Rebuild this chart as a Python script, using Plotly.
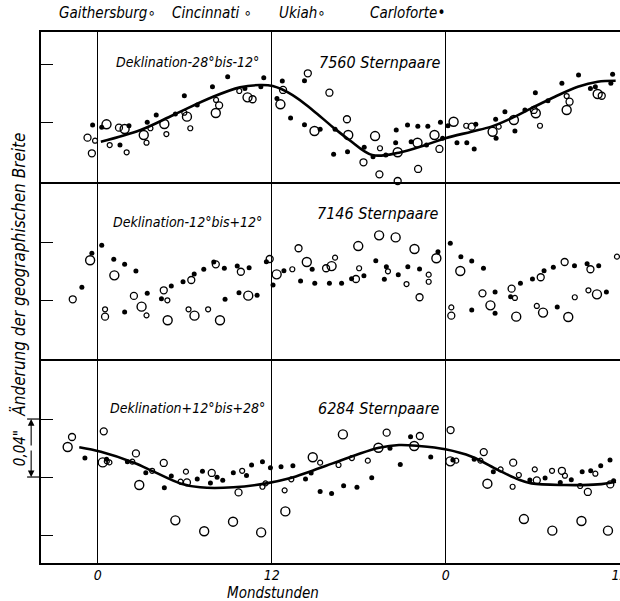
import plotly.graph_objects as go
from plotly.subplots import make_subplots

# ---------------- data (hours of lunar day, change of latitude in 0.01") -------------
HOURS_TICKS = [0, 12, 24, 36]
HOURS_LABELS = ["0", "12", "0", "12"]
STATIONS = ["Gaithersburg", "Cincinnati", "Ukiah", "Carloforte"]

# Panel 1: Deklination -28° bis -12°
P1_CARLOFORTE = [(-0.36,-0.21),(0.27,-0.37),(1.53,-1.59),(2.15,-0.26),(3.41,-0.02),(4.03,0.48),
    (5.35,0.55),(5.97,1.81),(6.86,1.17),(7.91,2.43),(8.96,3.12),(10.15,2.32),(11.45,3.06),
    (11.25,2.43),(12.73,2.83),(12.36,1.63),(13.30,0.28),(14.26,2.85),(14.26,-0.19),(15.34,-0.50),
    (16.37,-0.50),(16.27,-2.23),(17.23,-2.05),(18.38,-1.74),(18.99,-2.39),(19.87,-2.28),
    (20.55,-1.43),(20.59,-0.55),(21.37,-0.21),(22.08,-0.30),(22.77,-0.30),(21.62,-1.36),
    (22.68,-1.59),(23.64,-0.02),(23.79,-1.12),(24.16,-0.26),(24.78,-1.43),(26.08,-0.16),
    (25.46,-1.43),(25.97,-1.86),(27.45,0.19),(27.48,-1.12),(28.09,0.71),(28.78,-0.62),
    (29.47,0.83),(30.19,2.02),(31.06,1.47),(32.02,2.67),(33.17,3.24),(33.99,2.32),(34.33,2.43),
    (35.52,3.29),(35.40,2.67)]
P1_UKIAH = [(0.60,-0.16),(1.85,-0.48),(3.17,-0.90),(4.59,-0.14),(6.15,0.37),(8.14,0.62),
    (10.33,1.70),(12.60,1.22),(14.95,-0.62),(17.28,-0.90),(19.13,-0.97),(20.69,-2.09),
    (22.06,-1.43),(23.23,-0.90),(24.55,0.02),(27.24,-0.67),(28.71,0.14),(30.22,0.60),
    (32.35,0.83),(34.49,1.93)]
P1_GAITHERSBURG = [(-0.71,-1.08),(-0.41,-2.16),(1.46,-0.39),(8.37,1.15),(10.68,1.57),(12.78,2.21),
    (14.49,3.36),(15.98,2.02),(17.19,0.19),(18.33,-2.78),(19.43,-3.61),(20.69,-4.07),
    (22.10,-3.24),(23.57,-1.86),(25.80,-0.32),(30.08,0.83),(32.55,1.40),(34.77,1.81)]
P1_CINCINNATI = [(-0.19,-1.29),(0.82,-1.59),(1.99,-2.09),(3.36,-1.43),(3.63,-0.43),(4.73,-0.83),
    (5.97,0.64),(6.38,-0.43),(8.16,1.52),(9.76,2.14),(19.47,-1.81),(25.42,-0.26),(27.66,-0.32),
    (30.51,-0.26),(32.35,1.79)]
P1_CURVE = [(0.21,-1.36),(2.95,-0.55),(5.21,0.48),(7.95,1.74),(9.81,2.39),(11.18,2.55),
    (12.07,2.48),(13.44,1.86),(14.81,0.83),(16.18,-0.32),(17.35,-1.24),(18.93,-2.28),
    (20.78,-2.12),(22.61,-1.59),(23.98,-1.12),(25.78,-0.67),(27.15,-0.32),(28.53,0.26),
    (29.90,0.94),(31.54,1.74),(33.12,2.43),(34.49,2.78),(35.73,2.85)]

# Panel 2: Deklination -12° bis +12°
P2_CARLOFORTE = [(-1.10,0.88),(-0.41,3.22),(0.27,3.77),(1.10,2.81),(1.85,2.46),(1.85,-0.83),
    (2.63,2.0),(3.41,0.46),(4.39,0.09),(5.07,0.97),(5.88,1.26),(6.65,1.79),(7.31,2.12),
    (8.00,2.62),(8.73,2.19),(8.78,0.05),(9.62,2.34),(9.74,0.50),(10.44,2.23),(10.99,0.32),
    (11.63,2.64),(12.09,1.03),(12.84,2.02),(13.99,1.31),(14.79,2.12),(14.97,1.15),(15.98,1.15),
    (16.82,1.15),(17.51,1.47),(18.36,1.68),(19.18,2.71),(19.91,2.30),(19.77,1.43),(20.73,1.75),
    (21.39,2.30),(22.20,2.14),(23.47,3.33),(24.32,3.91),(25.05,2.99),(25.80,2.69),(26.61,2.19),
    (25.80,-0.69),(27.41,0.55),(27.41,-0.92),(28.48,0.23),(29.16,1.15),(29.99,1.45),(30.79,2.02),
    (31.43,2.26),(31.70,-0.48),(32.89,2.37),(33.76,2.50),(34.56,2.37),(35.09,0.55)]
P2_UKIAH = [(-0.53,2.74),(1.14,1.70),(3.02,-0.46),(4.82,-1.40),(6.67,-1.08),(8.43,-1.40),
    (10.38,0.30),(12.34,1.77),(14.42,2.62),(16.13,2.34),(17.97,3.72),(19.41,4.46),(20.55,4.32),
    (21.85,3.52),(23.36,2.88),(25.01,2.0),(27.09,-0.37),(28.87,-1.15),(30.72,-0.87),
    (32.46,-1.17),(34.44,0.39)]
P2_GAITHERSBURG = [(-1.73,0.05),(0.50,-1.15),(2.49,0.28),(4.55,0.67),(6.45,1.38),(8.14,2.46),
    (9.87,1.95),(11.86,2.83),(13.85,3.57),(15.75,2.19),(17.81,1.45),(22.20,0.19),(24.39,-1.08),
    (26.54,0.46),(28.55,0.78),(30.56,1.57),(32.21,2.62),(33.99,2.12)]
P2_CINCINNATI = [(0.50,-0.64),(3.36,-1.06),(4.80,-0.02),(6.26,-0.64),(7.61,-0.64),(13.42,2.12),
    (16.37,2.92),(18.03,2.19),(20.02,1.98),(21.30,1.10),(22.83,1.75),(22.83,1.26),(24.39,-0.51),
    (28.78,0.14),(30.29,-0.41),(32.91,0.19),(33.85,0.67),(35.82,2.99)]

# Panel 3: Deklination +12° bis +28°
P3_CARLOFORTE = [(-0.89,1.31),(0.60,1.22),(2.04,1.06),(3.31,0.30),(4.59,-0.74),(5.07,0.07),
    (6.86,-0.14),(7.22,0.39),(7.77,-0.41),(8.23,-0.02),(8.62,-0.23),(9.35,0.30),(10.26,0.11),
    (10.61,0.83),(11.36,1.06),(11.91,0.64),(12.64,0.71),(13.46,0.78),(14.33,-0.14),(14.72,0.28),
    (15.34,-0.99),(16.13,-1.13),(16.96,-0.60),(17.88,-0.71),(18.90,-0.05),(20.16,1.98),
    (20.87,0.87),(21.58,2.78),(22.97,1.38),(24.50,1.17),(25.97,1.22),(27.29,0.37),(29.81,-0.21),
    (30.86,-0.07),(31.91,-0.37),(32.67,-0.18),(33.42,0.37),(34.01,0.43),(34.70,0.78),
    (35.34,1.17),(35.59,-0.26)]
P3_UKIAH = [(-2.08,2.07),(0.34,1.01),(2.86,-0.55),(5.35,-2.99),(7.34,-3.74),(9.33,-3.08),
    (11.27,-3.82),(12.94,-2.37),(14.83,1.36),(16.91,2.94),(19.36,2.02),(21.83,2.14),(24.32,1.08),
    (26.88,-0.46),(29.40,-2.90),(31.36,-3.70),(33.37,-3.03),(35.20,-3.70)]
P3_GAITHERSBURG = [(-1.78,2.76),(0.41,3.15),(2.63,1.63),(4.55,0.97),(6.15,-0.37),(7.86,0.28),
    (9.71,-1.06),(19.93,3.06),(22.22,2.83),(24.34,3.24),(26.63,1.72),(28.66,0.99),(30.29,-0.23),
    (32.02,0.43),(33.81,-1.03),(35.36,-0.51)]
P3_CINCINNATI = [(0.80,1.01),(0.62,1.08),(2.38,1.06),(3.75,0.43),(5.71,-0.32),(6.08,0.37),
    (9.96,0.43),(11.36,-0.67),(11.57,-0.44),(12.89,-0.92),(13.35,-0.16),(15.34,0.99),(16.61,0.83),
    (17.53,1.31),(18.63,1.13),(24.73,1.13),(26.40,1.13),(27.79,0.53),(28.62,-0.67),(29.05,0.14),
    (30.15,0.53),(31.34,0.43),(32.23,0.09),(33.28,-0.62),(34.33,0.23)]
P3_CURVE = [(-1.28,2.05),(0.21,1.74),(2.49,0.99),(3.86,0.37),(5.69,-0.44),(7.06,-0.71),
    (9.35,-0.71),(11.63,-0.44),(13.23,-0.09),(14.61,0.37),(16.20,0.94),(17.81,1.52),(19.41,2.02),
    (20.78,2.21),(22.15,2.14),(23.98,1.91),(25.81,1.40),(27.63,0.48),(29.0,-0.16),(29.92,-0.44),
    (32.21,-0.55),(34.49,-0.51),(35.75,-0.32)]

PANEL_LABELS = ["Deklination-28°bis-12°", "Deklination-12°bis+12°", "Deklination+12°bis+28°"]
PANEL_COUNTS = ["7560 Sternpaare", "7146 Sternpaare", "6284 Sternpaare"]

# ---------------- styling ----------------
FONT = "DejaVu Sans Condensed, Liberation Sans Narrow, DejaVu Sans, sans-serif"
MARK = {
    "Gaithersburg": dict(symbol="circle-open", size=7, color="black", line=dict(width=1.3, color="black")),
    "Cincinnati": dict(symbol="circle-open", size=5, color="black", line=dict(width=1.2, color="black")),
    "Ukiah": dict(symbol="circle-open", size=9, color="black", line=dict(width=1.4, color="black")),
    "Carloforte": dict(symbol="circle", size=5, color="black", line=dict(width=0)),
}

panels = [
    dict(Gaithersburg=P1_GAITHERSBURG, Cincinnati=P1_CINCINNATI, Ukiah=P1_UKIAH, Carloforte=P1_CARLOFORTE, curve=P1_CURVE,
         yrange=[-4.14, 6.21], ticks=[0, 4], lab=(6.2, 4.14), cnt=(19.5, 4.14)),
    dict(Gaithersburg=P2_GAITHERSBURG, Cincinnati=P2_CINCINNATI, Ukiah=P2_UKIAH, Carloforte=P2_CARLOFORTE, curve=None,
         yrange=[-4.07, 8.14], ticks=[0, 4], lab=(6.2, 5.38), cnt=(19.3, 6.0)),
    dict(Gaithersburg=P3_GAITHERSBURG, Cincinnati=P3_CINCINNATI, Ukiah=P3_UKIAH, Carloforte=P3_CARLOFORTE, curve=P3_CURVE,
         yrange=[-5.93, 8.14], ticks=[-4, 0, 4], lab=(6.2, 4.76), cnt=(19.4, 4.76)),
]

fig = make_subplots(rows=3, cols=1, shared_xaxes=True, vertical_spacing=0,
                    row_heights=[150, 177, 204])

annotations = []
for i, p in enumerate(panels):
    r = i + 1
    if p["curve"]:
        fig.add_trace(go.Scatter(x=[a for a, b in p["curve"]], y=[b for a, b in p["curve"]],
                                 mode="lines", line=dict(color="black", width=2.6, shape="spline", smoothing=1.0),
                                 showlegend=False, hoverinfo="skip"), row=r, col=1)
    for st in STATIONS:
        pts = p[st]
        fig.add_trace(go.Scatter(x=[a for a, b in pts], y=[b for a, b in pts], mode="markers",
                                 name=st, marker=MARK[st], showlegend=False, cliponaxis=False),
                      row=r, col=1)
    yref = "y" if r == 1 else f"y{r}"
    xref = "x" if r == 1 else f"x{r}"
    annotations.append(dict(text=PANEL_LABELS[i], x=p["lab"][0], y=p["lab"][1], xref=xref, yref=yref,
                            showarrow=False, font=dict(family=FONT, size=14, style="italic", color="black")))
    annotations.append(dict(text=PANEL_COUNTS[i], x=p["cnt"][0], y=p["cnt"][1], xref=xref, yref=yref,
                            showarrow=False, font=dict(family=FONT, size=16, style="italic", color="black")))
    fig.update_yaxes(row=r, col=1, range=p["yrange"], tickvals=p["ticks"], ticks="inside", ticklen=12,
                     tickwidth=1.3, tickcolor="black", showticklabels=False, showgrid=False, zeroline=False,
                     showline=True, linecolor="black", linewidth=1.8)
    fig.update_xaxes(row=r, col=1, range=[-3.92, 36.03], tickvals=HOURS_TICKS, ticktext=HOURS_LABELS,
                     showgrid=True, gridcolor="black", gridwidth=1.4, showline=True, linecolor="black",
                     linewidth=1.8, mirror=(r == 1), zeroline=False, ticks="", automargin=False,
                     ticklabeloverflow="allow", ticklabelstandoff=-2,
                     tickfont=dict(family=FONT, size=14, style="italic", color="black"))

# station header
legend_text = ["Gaithersburg∘", "Cincinnati ∘", "Ukiah∘", "Carloforte•"]
legend_x = [57, 170, 277, 368]
for t, xp in zip(legend_text, legend_x):
    annotations.append(dict(text=t, x=(xp - 41) / 579, y=1.036, xref="paper", yref="paper", xanchor="left",
                            yanchor="middle", showarrow=False,
                            font=dict(family=FONT, size=15, style="italic", color="black")))

# axis titles
annotations.append(dict(text="Mondstunden", x=(273 - 41) / 579, y=-0.057, xref="paper", yref="paper",
                        showarrow=False, xanchor="center", yanchor="middle",
                        font=dict(family=FONT, size=15, style="italic", color="black")))
annotations.append(dict(text="Änderung der geographischen Breite", x=-0.038, y=0.543, xref="paper", yref="paper",
                        showarrow=False, textangle=-90, xanchor="center", yanchor="middle",
                        font=dict(family=FONT, size=17, style="italic", color="black")))
annotations.append(dict(text="0,04\"", x=-0.036, y=2, xref="paper", yref="y3",
                        showarrow=False, textangle=-90, xanchor="center", yanchor="middle",
                        font=dict(family=FONT, size=15, style="italic", color="black")))
# double arrow for the 0.04" scale
for yv, ay in [(4, 28), (0, -28)]:
    annotations.append(dict(x=-0.017, y=yv, xref="paper", yref="y3", ax=0, ay=ay, text="",
                            showarrow=True, arrowhead=2, arrowsize=1.2, arrowwidth=1.1, arrowcolor="black"))
shapes = []
for yv in [4, 0]:
    shapes.append(dict(type="line", xref="paper", yref="y3", x0=-0.024, x1=0, y0=yv, y1=yv,
                       line=dict(color="black", width=1.2)))

fig.update_layout(width=620, height=601, margin=dict(l=41, r=0, t=32, b=38, autoexpand=False),
                  plot_bgcolor="white", paper_bgcolor="white", annotations=annotations, shapes=shapes,
                  showlegend=False)

fig.write_html("out.html", config={"displayModeBar": False},
               post_script="document.body.style.margin='0px';document.body.style.overflow='hidden';")
